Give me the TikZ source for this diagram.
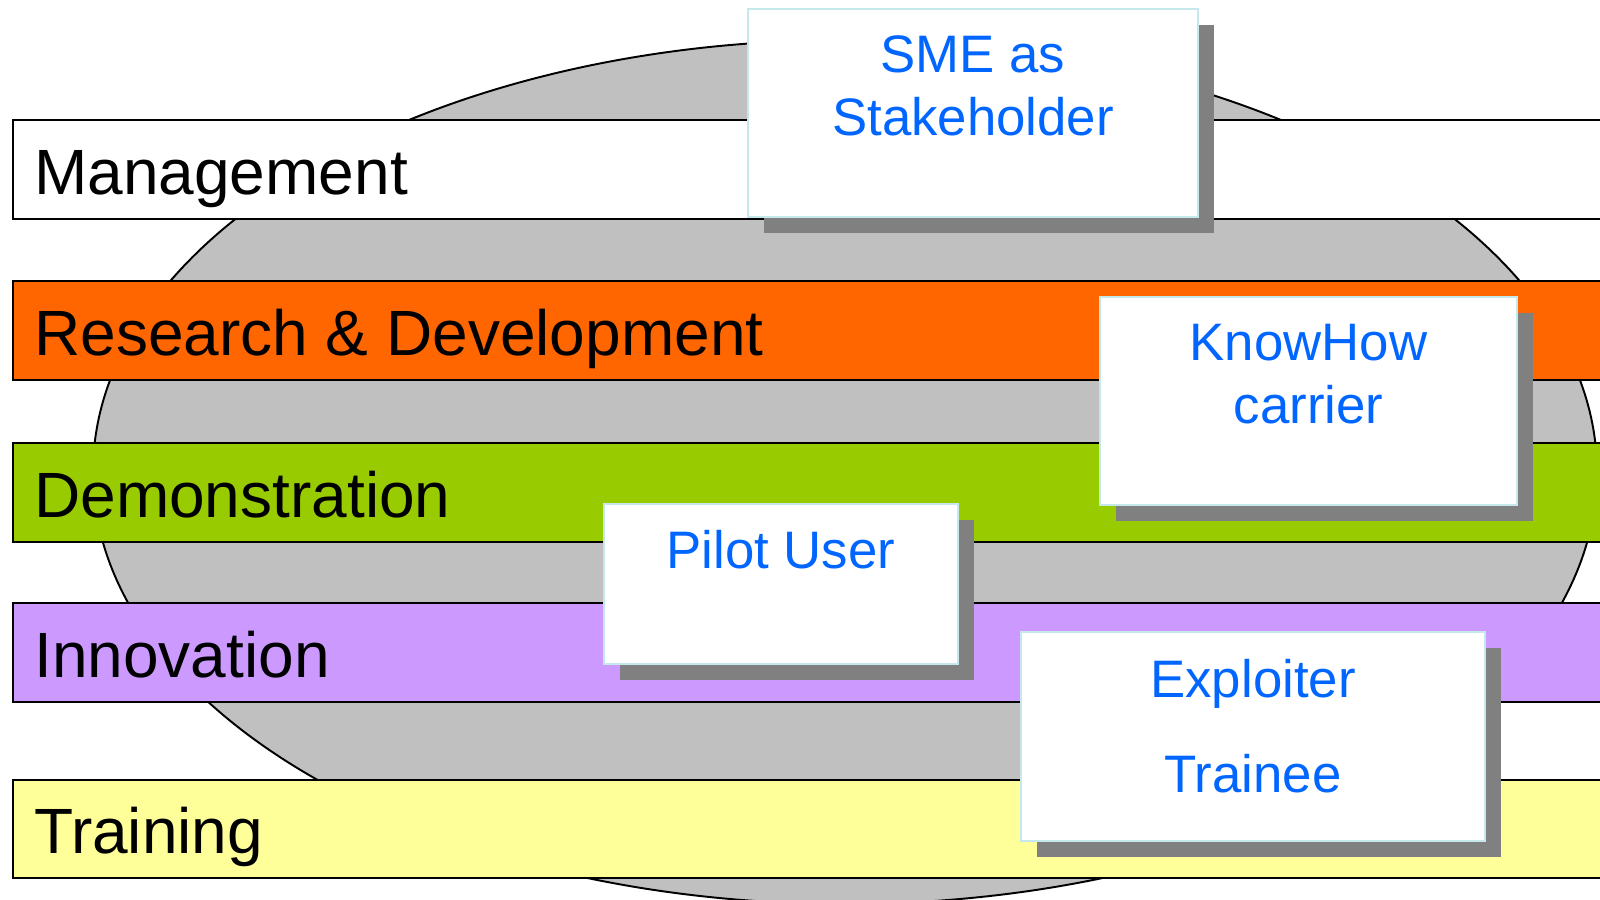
\documentclass[tikz,border=0pt]{standalone}
\usepackage{fontspec}
\setmainfont{Liberation Sans}
\definecolor{ellgray}{RGB}{192,192,192}
\definecolor{mgmtc}{RGB}{255,255,255}
\definecolor{rdc}{RGB}{255,102,0}
\definecolor{democ}{RGB}{153,204,0}
\definecolor{innoc}{RGB}{204,153,255}
\definecolor{trainc}{RGB}{255,255,153}
\definecolor{shadowc}{RGB}{128,128,128}
\definecolor{boxborder}{RGB}{196,232,236}
\definecolor{roleblue}{RGB}{0,102,255}
\begin{document}
\begin{tikzpicture}[x=0.01cm,y=-0.01cm,
  barst/.style={draw=black, line width=0.6pt},
  bartext/.style={anchor=base west, inner sep=0pt, font=\fontsize{18.2pt}{22pt}\selectfont, text=black},
  shadowst/.style={fill=shadowc},
  rolebox/.style={draw=boxborder, fill=white, line width=0.6pt},
  roletext/.style={anchor=base, inner sep=0pt, font=\fontsize{15pt}{18pt}\selectfont, text=roleblue}]
\useasboundingbox (0,0) rectangle (1600,899);
\clip (0,0) rectangle (1600,899);
\fill[white] (0,0) rectangle (1600,899);
% ellipse
\draw[fill=ellgray, line width=0.55pt] (845,472) ellipse [x radius=752, y radius=432];
% bars
\draw[barst, fill=mgmtc] (13,120) rectangle (1625,219);
\draw[barst, fill=rdc] (13,281) rectangle (1625,380);
\draw[barst, fill=democ] (13,443) rectangle (1625,542);
\draw[barst, fill=innoc] (13,603) rectangle (1625,702);
\draw[barst, fill=trainc] (13,780) rectangle (1625,878);
\node[bartext] (mgmt) at (33.6,194) {Management};
\node[bartext] (rd) at (33.6,355) {Research \& Development};
\node[bartext] (demo) at (33.6,517) {Demonstration};
\node[bartext] (inno) at (33.6,677) {Innovation};
\node[bartext] (train) at (33.6,853) {Training};
% role boxes
\fill[shadowst] (764,25) rectangle (1214,233);
\draw[rolebox] (748,9) rectangle (1198,217);
\node[roletext] (sme1) at (973,72) {SME as};
\node[roletext] (sme2) at (973,135) {Stakeholder};

\fill[shadowst] (1116,313) rectangle (1533,521);
\draw[rolebox] (1100,297) rectangle (1517,505);
\node[roletext] (kh1) at (1308.5,360) {KnowHow};
\node[roletext] (kh2) at (1308.5,423) {carrier};

\fill[shadowst] (620,520) rectangle (974,680);
\draw[rolebox] (604,504) rectangle (958,664);
\node[roletext] (pilot) at (781,568) {Pilot User};

\fill[shadowst] (1037,648) rectangle (1501,857);
\draw[rolebox] (1021,632) rectangle (1485,841);
\node[roletext] (expl) at (1253,697) {Exploiter};
\node[roletext] (trainee) at (1253,792) {Trainee};
\end{tikzpicture}
\end{document}
